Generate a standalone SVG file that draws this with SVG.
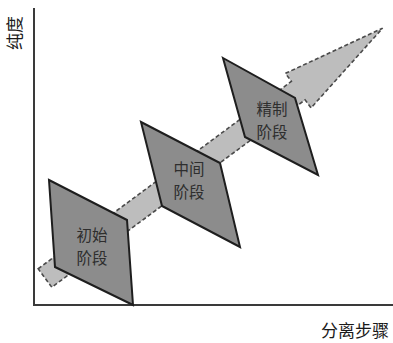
<svg xmlns="http://www.w3.org/2000/svg" width="393" height="343" viewBox="0 0 393 343">
<style>
.ax{stroke:#3a3a3a;stroke-width:2;fill:none}
.arrow{fill:#bdbdbd;stroke:#4a4a4a;stroke-width:1.6;stroke-dasharray:4 2.5;stroke-linejoin:miter}
.stage{fill:#8c8c8c;stroke:#1e1e1e;stroke-width:2;stroke-linejoin:miter}
.lbl{font-family:"Noto Sans CJK SC","Noto Sans CJK JP",sans-serif;font-size:15.5px;fill:#2e2e2e;text-anchor:middle}
.axl{font-family:"Noto Sans CJK SC","Noto Sans CJK JP",sans-serif;font-size:17px;fill:#1a1a1a;text-anchor:middle}
</style>
<rect width="393" height="343" fill="#ffffff"/>
<g id="axes">
<polyline class="ax" points="34,8 34,305 393,305"/>
<text class="axl" transform="translate(21,33) rotate(-90)">纯度</text>
<text class="axl" x="355" y="337">分离步骤</text>
</g>
<g id="connectors">
<path class="arrow" transform="translate(45,278) rotate(-36.5)" d="M0,-11.5 L315,-11.5 L315,-21.5 L420,0 L315,21.5 L315,11.5 L0,11.5 Z"/>
</g>
<g id="stage1">
<polygon class="stage" points="49,180 127,220 133,305 55,267"/>
<text class="lbl" x="92" y="241">初始</text>
<text class="lbl" x="92" y="264">阶段</text>
</g>
<g id="stage2">
<polygon class="stage" points="141,122 220,163 240,247 162,206"/>
<text class="lbl" x="189" y="175">中间</text>
<text class="lbl" x="189" y="198">阶段</text>
</g>
<g id="stage3">
<polygon class="stage" points="223,58 295,98 318,175 245,137"/>
<text class="lbl" x="272" y="115">精制</text>
<text class="lbl" x="272" y="138">阶段</text>
</g>
</svg>
